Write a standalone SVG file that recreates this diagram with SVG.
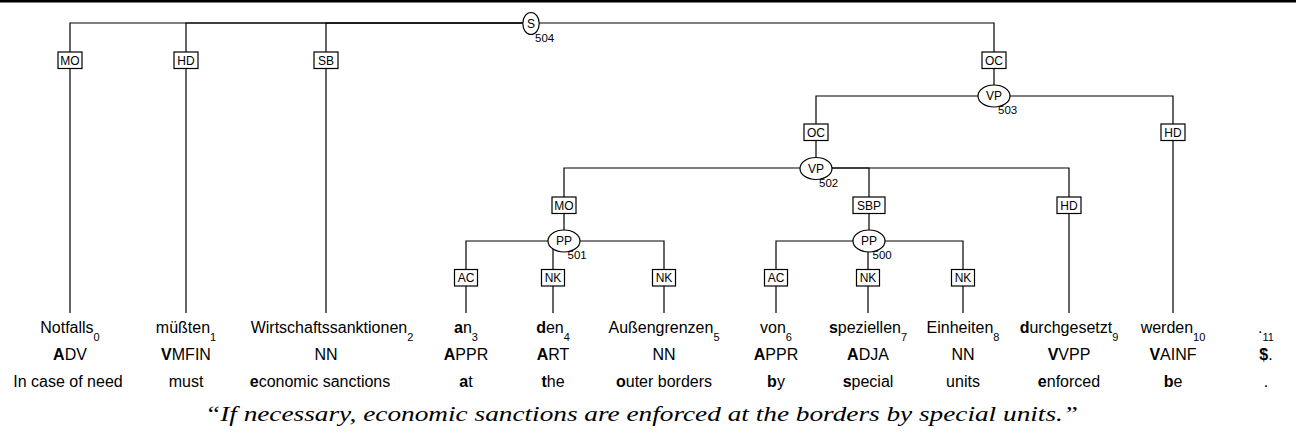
<svg xmlns="http://www.w3.org/2000/svg" width="1296" height="436" viewBox="0 0 1296 436">
<style>
text{font-family:"Liberation Sans",Arial,sans-serif;fill:#000}
.e{fill:none;stroke:#000;stroke-width:1.2}
.lb rect{fill:#fff;stroke:#000;stroke-width:1.2}
.lb text{font-size:12px;text-anchor:middle}
.n ellipse{fill:#fff;stroke:#000;stroke-width:1.2}
.n text.c{font-size:12px;text-anchor:middle}
.n text.id{font-size:11.5px}
.w{font-size:16px;text-anchor:middle}
.sub{font-size:11px}
.b{font-weight:bold}
.cap{font-family:"Liberation Serif","Times New Roman",serif;font-style:italic;font-size:20px}
</style>
<rect x="0" y="0" width="1296" height="2.5" fill="#000"/>
<g id="connectors">
  <path class="e" d="M531,23 H70 V313"/>
  <path class="e" d="M531,23 H186 V313"/>
  <path class="e" d="M531,23 H326 V313"/>
  <path class="e" d="M531,23 H994 V96"/>
  <path class="e" d="M994,96 H816 V168"/>
  <path class="e" d="M994,96 H1173 V313"/>
  <path class="e" d="M816,168 H564 V241"/>
  <path class="e" d="M816,168 H869 V241"/>
  <path class="e" d="M816,168 H1069 V313"/>
  <path class="e" d="M564,241 H466 V313"/>
  <path class="e" d="M564,241 H553 V313"/>
  <path class="e" d="M564,241 H664 V313"/>
  <path class="e" d="M869,241 H776 V313"/>
  <path class="e" d="M869,241 H868 V313"/>
  <path class="e" d="M869,241 H963 V313"/>
  <g class="lb">
    <rect x="58" y="52" width="24" height="16.5"/><text x="70" y="64.5">MO</text>
    <rect x="174" y="52" width="24" height="16.5"/><text x="186" y="64.5">HD</text>
    <rect x="314" y="52" width="24" height="16.5"/><text x="326" y="64.5">SB</text>
    <rect x="982" y="52" width="24" height="16.5"/><text x="994" y="64.5">OC</text>
    <rect x="804" y="124" width="24" height="16.5"/><text x="816" y="136.5">OC</text>
    <rect x="1161" y="124" width="24" height="16.5"/><text x="1173" y="136.5">HD</text>
    <rect x="552" y="197" width="24" height="16.5"/><text x="564" y="209.5">MO</text>
    <rect x="853" y="197" width="32" height="16.5"/><text x="869" y="209.5">SBP</text>
    <rect x="1057" y="197" width="24" height="16.5"/><text x="1069" y="209.5">HD</text>
    <rect x="454.5" y="269.5" width="23" height="16.5"/><text x="466" y="282">AC</text>
    <rect x="541.5" y="269.5" width="23" height="16.5"/><text x="553" y="282">NK</text>
    <rect x="652.5" y="269.5" width="23" height="16.5"/><text x="664" y="282">NK</text>
    <rect x="764.5" y="269.5" width="23" height="16.5"/><text x="776" y="282">AC</text>
    <rect x="856.5" y="269.5" width="23" height="16.5"/><text x="868" y="282">NK</text>
    <rect x="951.5" y="269.5" width="23" height="16.5"/><text x="963" y="282">NK</text>
  </g>
</g>
<g id="n504" class="n"><ellipse cx="531" cy="23.5" rx="8.2" ry="11"/><text class="c" x="531" y="27.8">S</text><text class="id" x="535" y="41.5">504</text></g>
<g id="n503" class="n"><ellipse cx="994" cy="96" rx="16" ry="11"/><text class="c" x="994" y="100.3">VP</text><text class="id" x="998" y="114">503</text></g>
<g id="n502" class="n"><ellipse cx="816" cy="168.5" rx="16" ry="11"/><text class="c" x="816" y="172.8">VP</text><text class="id" x="819" y="186.5">502</text></g>
<g id="n501" class="n"><ellipse cx="564" cy="241" rx="16" ry="11"/><text class="c" x="564" y="245.3">PP</text><text class="id" x="567.5" y="259">501</text></g>
<g id="n500" class="n"><ellipse cx="869" cy="241" rx="16" ry="11"/><text class="c" x="869" y="245.3">PP</text><text class="id" x="872.5" y="259">500</text></g>
<g id="t0"><text class="w" x="70" y="333">Notfalls<tspan class="sub" dy="8">0</tspan></text><text class="w" x="70" y="360"><tspan class="b">A</tspan>DV</text><text class="w" x="68" y="387">In case of need</text></g>
<g id="t1"><text class="w" x="186" y="333">müßten<tspan class="sub" dy="8">1</tspan></text><text class="w" x="186" y="360"><tspan class="b">V</tspan>MFIN</text><text class="w" x="186" y="387">must</text></g>
<g id="t2"><text class="w" x="332" y="333">Wirtschaftssanktionen<tspan class="sub" dy="8">2</tspan></text><text class="w" x="326" y="360">NN</text><text class="w" x="320" y="387"><tspan class="b">e</tspan>conomic sanctions</text></g>
<g id="t3"><text class="w" x="466" y="333"><tspan class="b">a</tspan>n<tspan class="sub" dy="8">3</tspan></text><text class="w" x="466" y="360"><tspan class="b">A</tspan>PPR</text><text class="w" x="466" y="387"><tspan class="b">a</tspan>t</text></g>
<g id="t4"><text class="w" x="553" y="333"><tspan class="b">d</tspan>en<tspan class="sub" dy="8">4</tspan></text><text class="w" x="553" y="360"><tspan class="b">A</tspan>RT</text><text class="w" x="553" y="387"><tspan class="b">t</tspan>he</text></g>
<g id="t5"><text class="w" x="664" y="333">Außengrenzen<tspan class="sub" dy="8">5</tspan></text><text class="w" x="664" y="360">NN</text><text class="w" x="664" y="387"><tspan class="b">o</tspan>uter borders</text></g>
<g id="t6"><text class="w" x="776" y="333">von<tspan class="sub" dy="8">6</tspan></text><text class="w" x="776" y="360"><tspan class="b">A</tspan>PPR</text><text class="w" x="776" y="387"><tspan class="b">b</tspan>y</text></g>
<g id="t7"><text class="w" x="868" y="333"><tspan class="b">s</tspan>peziellen<tspan class="sub" dy="8">7</tspan></text><text class="w" x="868" y="360"><tspan class="b">A</tspan>DJA</text><text class="w" x="868" y="387"><tspan class="b">s</tspan>pecial</text></g>
<g id="t8"><text class="w" x="963" y="333">Einheiten<tspan class="sub" dy="8">8</tspan></text><text class="w" x="963" y="360">NN</text><text class="w" x="963" y="387">units</text></g>
<g id="t9"><text class="w" x="1069" y="333"><tspan class="b">d</tspan>urchgesetzt<tspan class="sub" dy="8">9</tspan></text><text class="w" x="1069" y="360"><tspan class="b">V</tspan>VPP</text><text class="w" x="1069" y="387"><tspan class="b">e</tspan>nforced</text></g>
<g id="t10"><text class="w" x="1173" y="333">werden<tspan class="sub" dy="8">10</tspan></text><text class="w" x="1173" y="360"><tspan class="b">V</tspan>AINF</text><text class="w" x="1173" y="387"><tspan class="b">b</tspan>e</text></g>
<g id="t11"><text class="w" x="1266" y="333">.<tspan class="sub" dy="8">11</tspan></text><text class="w" x="1266" y="360"><tspan class="b">$</tspan>.</text><text class="w" x="1266" y="387">.</text></g>
<text class="cap" x="205" y="421" textLength="873" lengthAdjust="spacingAndGlyphs">“If necessary, economic sanctions are enforced at the borders by special units.”</text>
</svg>
